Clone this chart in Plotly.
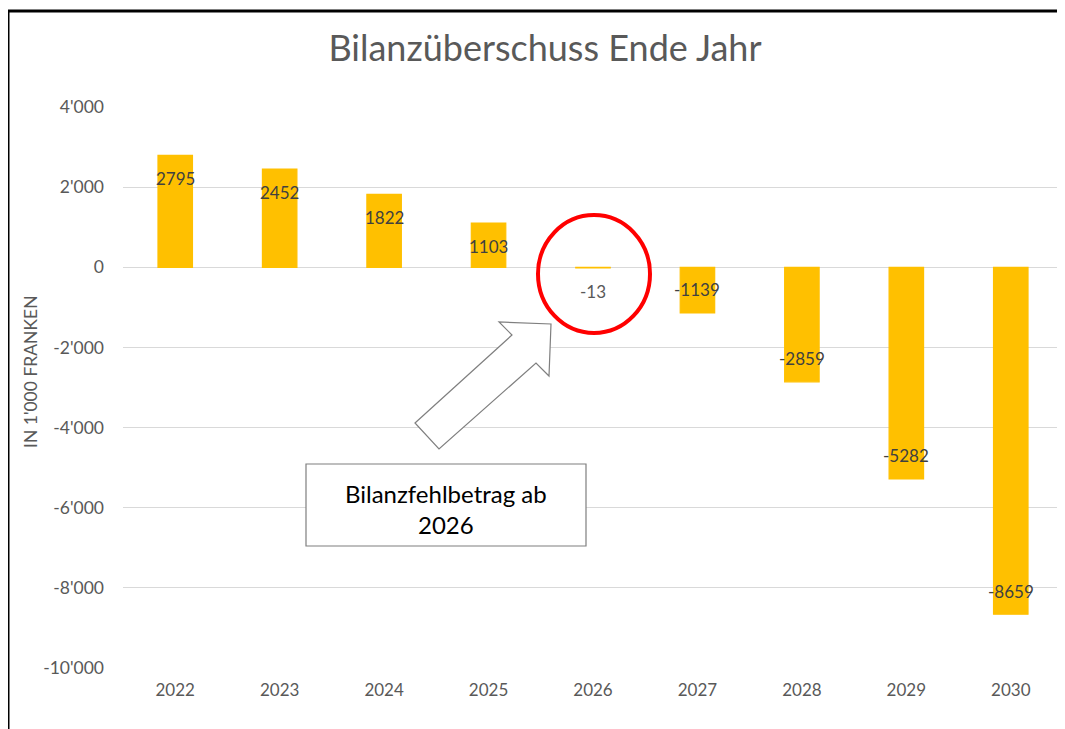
import plotly.graph_objects as go

years = ["2022", "2023", "2024", "2025", "2026", "2027", "2028", "2029", "2030"]
values = [2795, 2452, 1822, 1103, -13, -1139, -2859, -5282, -8659]
y_ticks = [4000, 2000, 0, -2000, -4000, -6000, -8000, -10000]
y_tick_text = ["4'000", "2'000", "0", "-2'000", "-4'000", "-6'000", "-8'000", "-10'000"]

# page body has an 8px margin: figure is drawn at offset (8, 8) in the window
O = 8
W, H = 1065 - O, 729 - O
L, R, T, B = 123 - O, 2, 107 - O, 61
PW, PH = W - L - R, H - T - B

def px(x):
    return (x - O - L) / PW

def py(y):
    return (H - B - (y - O)) / PH

FONT = "Lato"
GREY = "#595959"

fig = go.Figure()
fig.add_trace(go.Bar(
    x=years, y=values,
    marker=dict(color="#FFC000", line=dict(color="#FFC000", width=1.2)),
    hoverinfo="skip",
))

# data labels (category index positions on the category axis)
for i, v in enumerate(values):
    color = "#404040"
    if v > 0:
        shift = -23
    elif abs(v) < 300:
        shift = -24
        color = GREY
    else:
        shift = 23
    fig.add_annotation(x=i, y=v, xref="x", yref="y", text=str(v), showarrow=False,
                       xanchor="center", yanchor="middle",
                       yshift=shift, font=dict(family=FONT, size=17, color=color))

shapes = []
# outer border (top + left)
shapes.append(dict(type="line", xref="paper", yref="paper", x0=px(7), x1=px(1075), y0=py(11), y1=py(11),
                   line=dict(color="black", width=3)))
shapes.append(dict(type="line", xref="paper", yref="paper", x0=px(8), x1=px(8), y0=py(10), y1=py(740),
                   line=dict(color="black", width=3)))
# block arrow
pts = [(415, 423), (512, 335), (499, 322), (551, 324), (549, 376), (536, 363), (439, 449)]
path = "M " + " L ".join(f"{px(a):.5f},{py(b):.5f}" for a, b in pts) + " Z"
shapes.append(dict(type="path", xref="paper", yref="paper", path=path,
                   fillcolor="white", line=dict(color="#7F7F7F", width=1.2), layer="above"))
# text box
shapes.append(dict(type="rect", xref="paper", yref="paper", x0=px(306), x1=px(586), y0=py(464), y1=py(546),
                   fillcolor="white", line=dict(color="#7F7F7F", width=1.2), layer="above"))
# red circle
shapes.append(dict(type="circle", xref="paper", yref="paper", x0=px(538), x1=px(650), y0=py(215), y1=py(333),
                   line=dict(color="#FF0000", width=4), layer="above"))

fig.add_annotation(xref="paper", yref="paper", x=px(446), y=py(509), text="Bilanzfehlbetrag ab<br>2026",
                   xanchor="center", yanchor="middle",
                   showarrow=False, font=dict(family=FONT, size=24, color="black"), align="center")

# y axis title
fig.add_annotation(xref="paper", yref="paper", x=px(30), y=py(372), text="IN 1'000 FRANKEN", textangle=-90,
                   xanchor="center", yanchor="middle",
                   showarrow=False, font=dict(family=FONT, size=17.5, color=GREY))

fig.update_layout(
    width=W, height=H,
    margin=dict(l=L, r=R, t=T, b=B),
    paper_bgcolor="white", plot_bgcolor="white",
    showlegend=False,
    bargap=0.67,
    shapes=shapes,
    title=dict(text="Bilanzüberschuss Ende Jahr", xref="container", yref="container",
               x=(545 - O) / W, y=1 - (48 - O) / H, xanchor="center", yanchor="middle",
               font=dict(family=FONT, size=36, color=GREY)),
    xaxis=dict(type="category", range=[-0.5, len(years) - 0.5], showgrid=False, showline=False,
               zeroline=False, ticks="",
               tickfont=dict(family=FONT, size=17, color=GREY), ticklabelstandoff=10),
    yaxis=dict(range=[-10000, 4000], tickvals=y_ticks, ticktext=y_tick_text,
               showgrid=True, gridcolor="#D9D9D9", gridwidth=1,
               zeroline=True, zerolinecolor="#D9D9D9", zerolinewidth=1,
               showline=False, ticks="",
               tickfont=dict(family=FONT, size=17.5, color=GREY), ticklabelstandoff=18),
)

fig.write_html("out.html")
